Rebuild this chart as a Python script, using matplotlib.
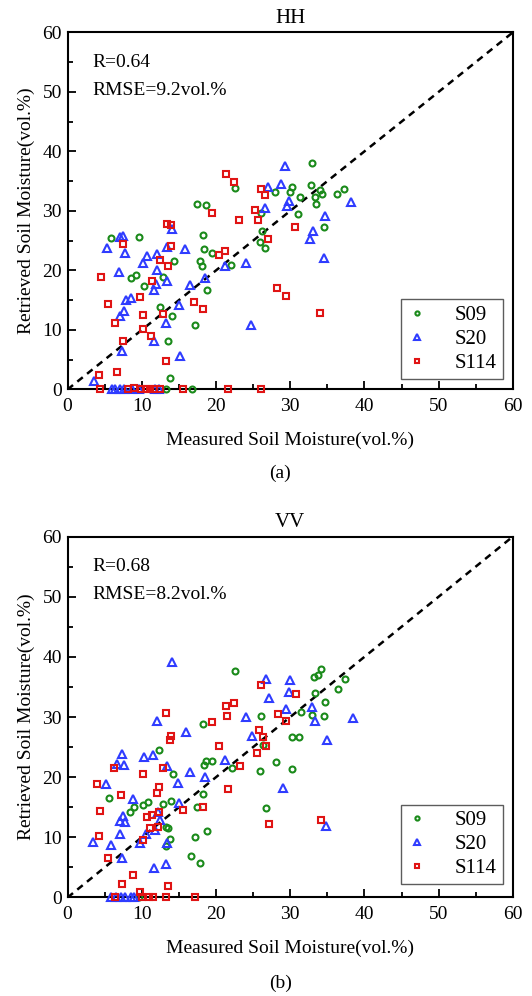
import matplotlib
matplotlib.use("Agg")
import matplotlib.pyplot as plt
from matplotlib.ticker import MultipleLocator

plt.rcParams['font.family'] = ['Liberation Serif', 'DejaVu Serif']
plt.rcParams['mathtext.fontset'] = 'stix'

# ---------------- HH data ----------------
hh_s09_x = [17.5, 18.6, 5.85, 9.6, 18.3, 18.4, 19.5, 14.3, 17.9, 18.1, 8.5, 9.2, 12.9, 10.3, 18.8,
            12.4, 14.1, 17.2, 13.6, 13.8, 13.3, 16.7,
            33.0, 22.5, 30.2, 28.0, 29.95, 32.8, 31.3, 33.3, 34.0, 34.3, 36.25, 37.3, 33.5, 26.1,
            31.1, 26.2, 25.9, 26.6, 34.55, 22.0]
hh_s09_y = [31.1, 31.0, 25.5, 25.6, 26.0, 23.6, 22.9, 21.6, 21.6, 20.7, 18.7, 19.3, 18.9, 17.4, 16.7,
            13.9, 12.3, 10.9, 8.2, 1.85, 0.0, 0.0,
            38.1, 33.9, 34.1, 33.1, 33.1, 34.3, 32.3, 32.4, 33.5, 32.8, 32.8, 33.6, 31.1, 29.7,
            29.5, 26.6, 24.8, 23.7, 27.3, 20.9]

hh_s20_x = [7.5, 7.1, 5.3, 14.1, 7.8, 13.4, 15.8, 10.7, 12.1, 10.2, 6.9, 12.05, 18.5, 11.9, 13.4,
            11.65, 16.5, 8.6, 7.9, 7.6, 7.0, 15.0, 13.3, 11.7, 7.4, 15.1, 3.6,
            6.0, 6.4, 7.0, 7.6, 8.7, 9.6, 11.8, 12.3,
            29.3, 28.8, 27.0, 29.8, 29.6, 26.6, 38.2, 34.7, 33.1, 32.6, 34.6, 24.0, 21.2, 24.7]
hh_s20_y = [25.8, 25.6, 23.7, 26.9, 22.9, 23.9, 23.6, 22.4, 22.7, 21.2, 19.7, 20.1, 18.8, 17.8, 18.2,
            16.7, 17.5, 15.3, 15.0, 13.1, 12.3, 14.2, 11.2, 8.2, 6.4, 5.6, 1.5,
            0.0, 0.0, 0.0, 0.0, 0.0, 0.0, 0.0, 0.0,
            37.5, 34.6, 34.0, 31.6, 30.9, 30.5, 31.5, 29.1, 26.6, 25.2, 22.1, 21.3, 20.8, 10.9]

hh_s114_x = [19.5, 13.35, 13.9, 7.45, 14.0, 20.4, 12.45, 13.6, 4.5, 11.4, 9.8, 5.5, 10.2, 12.9,
             6.4, 10.2, 11.2, 7.45, 13.3, 6.6, 4.2, 17.1, 18.25,
             4.4, 8.1, 8.9, 9.9, 10.6, 11.1, 11.7, 12.4, 15.5, 21.6, 26.1,
             21.4, 22.4, 26.0, 26.65, 25.3, 23.1, 25.7, 30.7, 27.0, 21.2, 28.2, 29.4, 34.0]
hh_s114_y = [29.7, 27.8, 27.7, 24.5, 24.1, 22.6, 21.8, 20.7, 18.9, 18.3, 15.5, 14.3, 12.5, 12.6,
             11.2, 10.1, 9.0, 8.2, 4.7, 3.0, 2.35, 14.7, 13.5,
             0.0, 0.0, 0.3, 0.0, 0.0, 0.0, 0.0, 0.0, 0.0, 0.0, 0.0,
             36.2, 34.9, 33.6, 32.6, 30.2, 28.4, 28.4, 27.3, 25.2, 23.3, 17.0, 15.7, 12.9]

# ---------------- VV data ----------------
vv_s09_x = [18.3, 12.3, 14.25, 5.6, 10.9, 10.2, 12.8, 14.0, 9.0, 8.4, 17.5, 18.2, 13.25, 13.5,
            13.75, 13.25, 17.2, 18.8, 16.6, 17.9, 18.6, 19.5, 18.4, 9.6,
            22.6, 34.2, 33.7, 33.2, 37.4, 33.4, 36.5, 34.75, 31.5, 32.9, 34.5, 26.1, 30.2, 31.2,
            26.35, 28.1, 25.95, 30.3, 22.1, 26.7]
vv_s09_y = [28.9, 24.5, 20.5, 16.6, 15.9, 15.3, 15.6, 16.1, 15.0, 14.25, 15.0, 17.2, 11.8, 11.5,
            9.7, 8.6, 10.1, 11.1, 6.9, 5.8, 22.7, 22.7, 22.0, 0.0,
            37.6, 37.9, 37.0, 36.6, 36.4, 34.0, 34.6, 32.5, 30.8, 30.4, 30.1, 30.1, 26.75, 26.6,
            25.4, 22.6, 21.1, 21.3, 21.5, 14.9]

vv_s20_x = [14.1, 12.0, 15.9, 7.3, 6.7, 7.65, 10.3, 11.55, 13.4, 16.5, 18.5, 5.2, 14.9, 8.8,
            15.05, 7.5, 7.0, 7.7, 12.2, 12.5, 11.8, 7.0, 10.6, 3.4, 5.8, 9.7, 13.35, 7.3, 11.6, 13.3,
            5.9, 6.5, 7.2, 7.7, 8.5, 9.0,
            26.8, 30.0, 29.8, 27.1, 29.45, 32.9, 24.0, 33.35, 38.4, 24.8, 21.2, 34.9, 29.0, 34.8]
vv_s20_y = [39.1, 29.3, 27.5, 23.9, 22.25, 22.0, 23.3, 23.7, 21.8, 20.9, 20.0, 18.8, 19.0, 16.4,
            15.75, 13.6, 12.75, 12.5, 14.25, 12.9, 11.25, 10.6, 10.6, 9.2, 8.8, 9.1, 9.1, 6.5, 4.9, 5.5,
            0.0, 0.0, 0.0, 0.0, 0.0, 0.0,
            36.25, 36.1, 34.1, 33.1, 31.3, 31.6, 30.0, 29.3, 29.9, 26.9, 22.9, 26.1, 18.2, 11.9]

vv_s114_x = [13.3, 19.5, 13.9, 13.85, 20.35, 6.2, 12.85, 10.1, 4.0, 12.35, 12.1, 7.2, 4.4, 12.35,
             11.4, 10.7, 15.5, 18.3, 11.15, 12.25, 4.2, 10.2, 5.4, 8.8, 7.3, 13.5, 9.75,
             6.4, 10.0, 11.0, 11.55, 13.2, 17.2,
             26.1, 30.8, 22.4, 21.3, 21.5, 28.3, 29.5, 25.8, 26.3, 26.75, 25.5, 23.2, 21.6, 27.1, 34.2]
vv_s114_y = [30.75, 29.2, 26.9, 26.2, 25.1, 21.5, 21.6, 20.6, 18.8, 18.4, 17.3, 17.0, 14.4, 14.2,
             13.7, 13.3, 14.6, 15.0, 11.5, 11.7, 10.3, 9.6, 6.5, 3.8, 2.3, 1.9, 0.9,
             0.0, 0.0, 0.0, 0.0, 0.0, 0.0,
             35.3, 33.8, 32.25, 31.9, 30.1, 30.5, 29.4, 27.9, 26.75, 25.2, 24.1, 21.8, 18.0, 12.3, 12.9]

series_names = ["S09", "S20", "S114"]
titles = ["HH", "VV"]
stats = [("R=0.64", "RMSE=9.2vol.%"), ("R=0.68", "RMSE=8.2vol.%")]
panel_labels = ["(a)", "(b)"]
xlabel = "Measured Soil Moisture(vol.%)"
ylabel = "Retrieved Soil Moisture(vol.%)"

colors = ["#1a8a1a", "#2f3cff", "#e01414"]
markers = ["o", "^", "s"]
msizes = [4.3, 5.3, 4.3]

fig = plt.figure(figsize=(5.32, 9.96), dpi=100)
ax1 = fig.add_axes([0.127, 0.609, 0.837, 0.3585])
ax2 = fig.add_axes([0.127, 0.0989, 0.837, 0.3624])

datasets = [
    [(hh_s09_x, hh_s09_y), (hh_s20_x, hh_s20_y), (hh_s114_x, hh_s114_y)],
    [(vv_s09_x, vv_s09_y), (vv_s20_x, vv_s20_y), (vv_s114_x, vv_s114_y)],
]

FS = 14
for i, ax in enumerate([ax1, ax2]):
    ax.plot([0, 60], [0, 60], color="black", lw=1.8, linestyle=(0, (2.8, 2.2)), zorder=1)
    for j, (xs, ys) in enumerate(datasets[i]):
        ax.plot(xs, ys, linestyle="none", marker=markers[j], markersize=msizes[j],
                markerfacecolor="none", markeredgecolor=colors[j], markeredgewidth=1.5,
                label=series_names[j], zorder=3, clip_on=False)
    ax.set_xlim(0, 60)
    ax.set_ylim(0, 60)
    ax.xaxis.set_major_locator(MultipleLocator(10))
    ax.xaxis.set_minor_locator(MultipleLocator(5))
    ax.yaxis.set_major_locator(MultipleLocator(10))
    ax.yaxis.set_minor_locator(MultipleLocator(5))
    ax.tick_params(which="both", direction="in", top=False, right=False, labelsize=FS, width=1.3)
    ax.tick_params(which="major", length=6)
    ax.tick_params(which="minor", length=3.5)
    ax.tick_params(axis="x", which="major", pad=6)
    ax.tick_params(axis="y", which="major", pad=4)
    for sp in ax.spines.values():
        sp.set_linewidth(1.5)
    ax.set_title(titles[i], fontsize=FS + 1, pad=7)
    ax.set_xlabel(xlabel, fontsize=FS, labelpad=12)
    ax.set_ylabel(ylabel, fontsize=FS, labelpad=5)
    ax.text(3.3, 55.0, stats[i][0], fontsize=FS, va="center", ha="left")
    ax.text(3.3, 50.3, stats[i][1], fontsize=FS, va="center", ha="left")
    leg = ax.legend(loc="lower right", bbox_to_anchor=(0.978, 0.029 if i == 0 else 0.037),
                    fontsize=FS + 1, frameon=True, fancybox=False, edgecolor="#333333",
                    markerscale=0.7, handlelength=1.0, handletextpad=1.3, borderpad=0.3,
                    labelspacing=0.2, borderaxespad=0)
    leg.get_frame().set_linewidth(1.0)

fig.text(0.527, 1 - 473 / 996, panel_labels[0], fontsize=FS, ha="center", va="center")
fig.text(0.527, 1 - 983 / 996, panel_labels[1], fontsize=FS, ha="center", va="center")

fig.savefig("out.png", dpi=100)
